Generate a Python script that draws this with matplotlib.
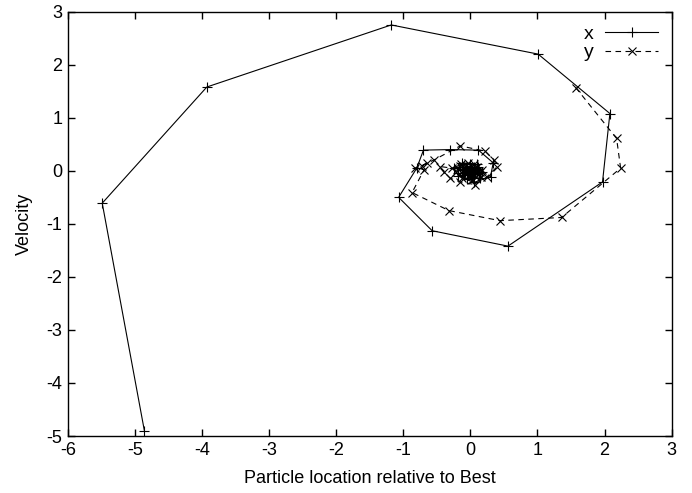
import matplotlib
matplotlib.use("Agg")
import matplotlib.pyplot as plt

plt.rcParams['font.family'] = ['Liberation Sans', 'DejaVu Sans']
plt.rcParams['axes.unicode_minus'] = False

# x dimension: location vs velocity
loc_x = [-4.86, -5.49, -3.93, -1.18, 1.01, 2.08, 1.97, 0.56, -0.57, -1.07,
         -0.80, -0.70, -0.30, 0.12, 0.34, 0.30, 0.05, -0.18, -0.24, -0.12,
         0.10, 0.18, 0.14, -0.05, -0.18, -0.16, 0.00, 0.12, 0.13, 0.03,
         -0.10, -0.13, -0.06, 0.05, 0.10, 0.07, -0.03, -0.08, -0.06, 0.01,
         0.05, 0.04, 0.00, -0.03, -0.02, 0.00]
vel_x = [-4.91, -0.61, 1.58, 2.75, 2.20, 1.08, -0.21, -1.42, -1.13, -0.50,
         0.05, 0.39, 0.40, 0.39, 0.15, -0.11, -0.22, -0.10, 0.05, 0.15,
         0.12, -0.03, -0.14, -0.15, -0.05, 0.08, 0.13, 0.07, -0.04, -0.11,
         -0.08, 0.01, 0.08, 0.07, 0.01, -0.06, -0.07, -0.02, 0.04, 0.05,
         0.02, -0.02, -0.04, -0.02, 0.01, 0.02]

# y dimension
loc_y = [1.57, 2.18, 2.24, 1.36, 0.44, -0.32, -0.87, -0.69, -0.82, -0.64,
         -0.72, -0.55, -0.15, 0.22, 0.35, 0.40, 0.25, 0.07, -0.15, -0.30,
         -0.40, -0.45, -0.27, -0.14, 0.05, 0.18, 0.16, 0.02, -0.13, -0.21,
         -0.16, -0.03, 0.10, 0.15, 0.09, -0.03, -0.11, -0.10, -0.02, 0.07,
         0.08, 0.03, -0.04, -0.06, -0.03, 0.02, 0.03, 0.01, 0.00]
vel_y = [1.57, 0.61, 0.05, -0.88, -0.94, -0.75, -0.41, 0.02, 0.05, 0.14,
         0.10, 0.20, 0.47, 0.37, 0.20, 0.08, -0.11, -0.26, -0.21, -0.14,
         -0.02, 0.08, 0.05, 0.13, 0.13, 0.02, -0.12, -0.18, -0.13, -0.02,
         0.10, 0.14, 0.08, -0.03, -0.11, -0.10, -0.01, 0.07, 0.08, 0.03,
         -0.04, -0.06, -0.03, 0.02, 0.04, 0.02, -0.01, -0.02, 0.00]

xticks = [-6, -5, -4, -3, -2, -1, 0, 1, 2, 3]
yticks = [-5, -4, -3, -2, -1, 0, 1, 2, 3]

fig = plt.figure(figsize=(6.92, 4.93), dpi=100)
ax = fig.add_axes([0.0983, 0.1156, 0.8722, 0.8607])

ax.plot(loc_x, vel_x, color='black', lw=0.8, marker='+', ms=7, mew=0.8, label='x')
ax.plot(loc_y, vel_y, color='black', lw=0.8, marker='x', ms=6, mew=0.8,
        dashes=(5, 4), label='y')

ax.set_xlim(-6, 3)
ax.set_ylim(-5, 3)
ax.set_xticks(xticks)
ax.set_yticks(yticks)
ax.tick_params(direction='in', length=5, width=1, top=True, right=True,
               labelsize=13, pad=4)
for s in ax.spines.values():
    s.set_linewidth(1)

ax.set_xlabel('Particle location relative to Best', fontsize=13, labelpad=8)
ax.set_ylabel('Velocity', fontsize=13, labelpad=10)

ax.legend(loc='upper right', frameon=False, markerfirst=False, fontsize=14,
          handlelength=2.7, handletextpad=0.6, labelspacing=0.05,
          borderaxespad=0.3)

fig.savefig('out.png', dpi=100)
